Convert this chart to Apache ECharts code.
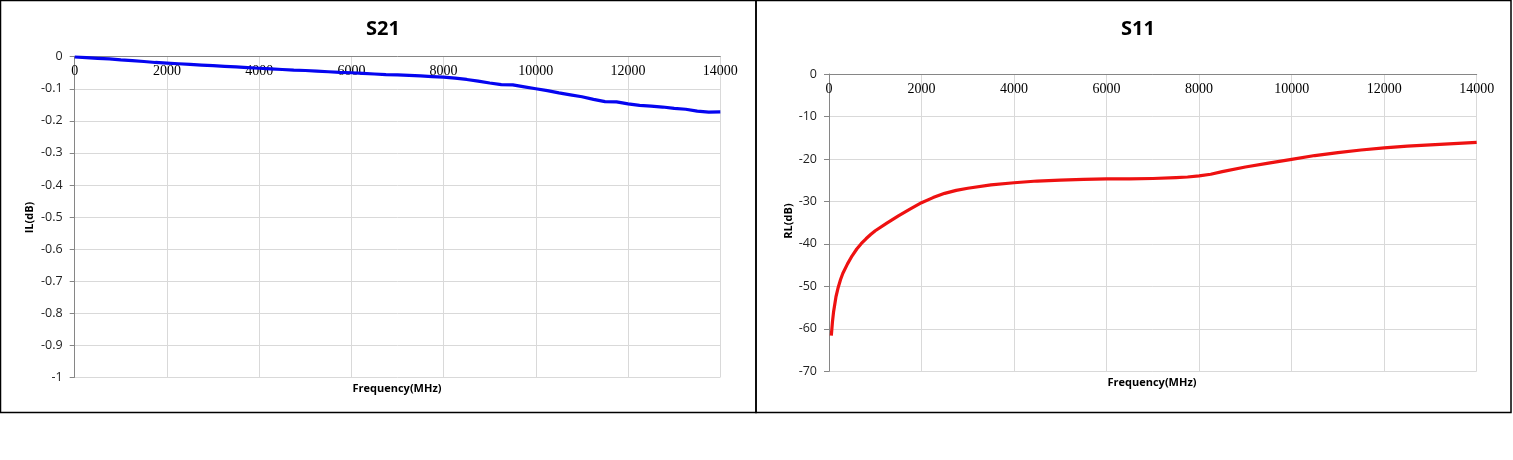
<!DOCTYPE html>
<html>
<head>
<meta charset="utf-8">
<script src="https://cdn.jsdelivr.net/npm/echarts@6/dist/echarts.min.js"></script>
<style>html,body{margin:0;padding:0;background:#fff;}#c{width:1513px;height:460px;}</style>
</head>
<body>
<div id="c"></div>
<script>
// S21 (insertion loss)
const s21Freq = [0,250,500,750,1000,1250,1500,1750,2000,2250,2500,2750,3000,3250,3500,3750,4000,4250,4500,4750,5000,5250,5500,5750,6000,6250,6500,6750,7000,7250,7500,7750,8000,8250,8500,8750,9000,9250,9500,9750,10000,10250,10500,10750,11000,11250,11500,11750,12000,12250,12500,12750,13000,13250,13500,13750,14000];
const s21Values = [-0.001,-0.003,-0.005,-0.007,-0.010,-0.012,-0.015,-0.018,-0.020,-0.022,-0.024,-0.026,-0.028,-0.030,-0.032,-0.034,-0.036,-0.038,-0.040,-0.042,-0.043,-0.045,-0.047,-0.049,-0.050,-0.052,-0.054,-0.056,-0.057,-0.058,-0.060,-0.062,-0.064,-0.067,-0.071,-0.076,-0.082,-0.087,-0.088,-0.094,-0.100,-0.106,-0.113,-0.119,-0.125,-0.133,-0.140,-0.141,-0.147,-0.152,-0.154,-0.157,-0.161,-0.164,-0.170,-0.173,-0.172];
// S11 (return loss)
const s11Freq = [50,75,100,150,200,250,300,400,500,600,700,800,900,1000,1250,1500,1750,2000,2250,2500,2750,3000,3500,4000,4500,5000,5500,6000,6500,7000,7500,7750,8000,8250,8500,9000,9500,10000,10500,11000,11500,12000,12500,13000,13500,14000];
const s11Values = [-61.6,-58.3,-55.9,-52.5,-50.2,-48.4,-46.9,-44.7,-42.8,-41.2,-39.9,-38.8,-37.8,-36.9,-35.1,-33.4,-31.8,-30.3,-29.1,-28.1,-27.4,-26.9,-26.1,-25.6,-25.2,-25.0,-24.8,-24.7,-24.7,-24.6,-24.4,-24.25,-24.0,-23.6,-23.0,-21.9,-21.0,-20.1,-19.2,-18.5,-17.9,-17.4,-17.0,-16.7,-16.4,-16.1];
// axis settings
const freqMin = 0, freqMax = 14000, freqStep = 2000;
const ilMin = -1, ilMax = 0, ilStep = 0.1;
const rlMin = -70, rlMax = 0, rlStep = 10;

const pair = (xs, ys) => xs.map((x, i) => [x, ys[i]]);

const chart = echarts.init(document.getElementById('c'), null, {renderer: 'canvas'});

function xAxisCfg(gi) {
  return {
    type: 'value', gridIndex: gi, min: freqMin, max: freqMax, interval: freqStep,
    position: 'top',
    axisLine: {show: true, lineStyle: {color: '#868686', width: 1}},
    axisTick: {show: false},
    axisLabel: {inside: true, margin: 8, fontFamily: 'Liberation Serif', fontSize: 14, color: '#000', formatter: v => String(v)},
    splitLine: {show: true, lineStyle: {color: '#d9d9d9', width: 1}}
  };
}
function yAxisCfg(gi, mn, mx, st) {
  return {
    type: 'value', gridIndex: gi, min: mn, max: mx, interval: st,
    axisLine: {show: true, lineStyle: {color: '#868686', width: 1}},
    axisTick: {show: true, length: 5, lineStyle: {color: '#868686'}},
    axisLabel: {margin: 12, fontFamily: 'Open Sans', fontSize: 12.5, color: '#222', formatter: v => String(Math.round(v * 10) / 10)},
    splitLine: {show: true, lineStyle: {color: '#d9d9d9', width: 1}}
  };
}

const option = {
  backgroundColor: '#fff',
  animation: false,
  title: [
    {text: 'S21', left: 378, top: 14, textAlign: 'center', textStyle: {fontFamily: 'Open Sans', fontWeight: 'bold', fontSize: 20, color: '#000'}},
    {text: 'S11', left: 1133, top: 14, textAlign: 'center', textStyle: {fontFamily: 'Open Sans', fontWeight: 'bold', fontSize: 20, color: '#000'}}
  ],
  grid: [
    {left: 74.7, right: 792.7, top: 56.7, bottom: 82.7, containLabel: false},
    {left: 829, right: 36.3, top: 74, bottom: 88.7, containLabel: false}
  ],
  xAxis: [xAxisCfg(0), xAxisCfg(1)],
  yAxis: [yAxisCfg(0, ilMin, ilMax, ilStep), yAxisCfg(1, rlMin, rlMax, rlStep)],
  series: [
    {type: 'line', name: 'S21', xAxisIndex: 0, yAxisIndex: 0, data: pair(s21Freq, s21Values), showSymbol: false, lineStyle: {color: '#0505f0', width: 3.2}, z: 5},
    {type: 'line', name: 'S11', xAxisIndex: 1, yAxisIndex: 1, data: pair(s11Freq, s11Values), showSymbol: false, lineStyle: {color: '#ee1111', width: 3.2, join: 'round'}, z: 5}
  ],
  graphic: [
    {type: 'rect', shape: {x: 0.5, y: 0.5, width: 755.5, height: 412}, style: {fill: null, stroke: '#000', lineWidth: 1.5}, silent: true},
    {type: 'rect', shape: {x: 756, y: 0.5, width: 755, height: 412}, style: {fill: null, stroke: '#000', lineWidth: 1.5}, silent: true},
    {type: 'text', x: 397, y: 389, style: {text: 'Frequency(MHz)', fontFamily: 'Open Sans', fontWeight: 'bold', fontSize: 11, fill: '#000', align: 'center', verticalAlign: 'middle'}},
    {type: 'text', x: 1152, y: 382.5, style: {text: 'Frequency(MHz)', fontFamily: 'Open Sans', fontWeight: 'bold', fontSize: 11, fill: '#000', align: 'center', verticalAlign: 'middle'}},
    {type: 'text', x: 29.5, y: 217.5, rotation: Math.PI / 2, style: {text: 'IL(dB)', fontFamily: 'Open Sans', fontWeight: 'bold', fontSize: 11, fill: '#000', align: 'center', verticalAlign: 'middle'}},
    {type: 'text', x: 788.5, y: 221, rotation: Math.PI / 2, style: {text: 'RL(dB)', fontFamily: 'Open Sans', fontWeight: 'bold', fontSize: 11, fill: '#000', align: 'center', verticalAlign: 'middle'}}
  ]
};
chart.setOption(option);
</script>
</body>
</html>
